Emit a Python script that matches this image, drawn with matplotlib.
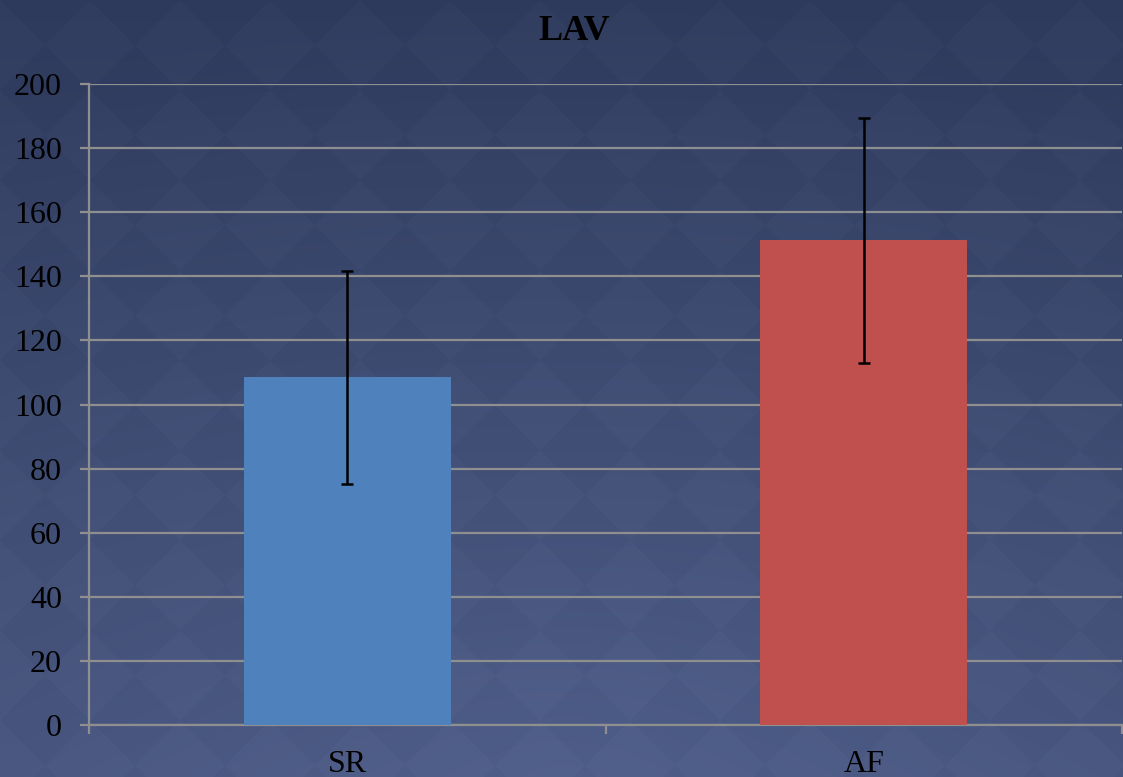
import numpy as np
import matplotlib.pyplot as plt

# data
categories = ['SR', 'AF']
means = [108.5, 151.2]
errors = [33.3, 38.1]
bar_colors = ['#4f81bd', '#c0504d']
yticks = [0, 20, 40, 60, 80, 100, 120, 140, 160, 180, 200]

W, H = 1123, 777
fig = plt.figure(figsize=(W / 100, H / 100), dpi=100)

# background: blue gradient with faint diamond texture
yy, xx = np.mgrid[0:H, 0:W]
t = yy / H
r = np.sqrt(((xx - W * 0.5) / W) ** 2 + ((yy - H) / H) ** 2)
glow = np.clip(1 - r / 1.0, 0, 1)
top = np.array([48, 60, 94]) / 255
bot = np.array([80, 95, 138]) / 255
img = top + (bot - top) * (0.55 * t + 0.45 * glow)[..., None]
p = 90
diamond = ((np.floor((xx + yy) / p) + np.floor((xx - yy) / p)) % 2)
img = img + (diamond[..., None] - 0.5) * 0.012
img = np.clip(img, 0, 1)
bg = fig.add_axes([0, 0, 1, 1], zorder=-1)
bg.imshow(img, aspect='auto', extent=[0, 1, 0, 1])
bg.axis('off')

ax = fig.add_axes([89 / W, 52 / H, 1033 / W, 641 / H])
ax.patch.set_alpha(0)

x = np.arange(len(categories))
ax.bar(x, means, width=0.4, color=bar_colors, zorder=3)
ax.errorbar(x, means, yerr=errors, fmt='none', ecolor='black',
            elinewidth=1.8, capsize=4.5, capthick=1.8, zorder=4)

ax.set_xlim(-0.5, 1.5)
ax.set_ylim(0, 200)
ax.set_yticks(yticks)
ax.yaxis.grid(True, color='#8f8f8f', linewidth=1.6, zorder=1)
ax.set_axisbelow(True)

grid_col = '#8f8f8f'
for s in ['top', 'right']:
    ax.spines[s].set_visible(False)
for s in ['left', 'bottom']:
    ax.spines[s].set_color(grid_col)
    ax.spines[s].set_linewidth(1.6)

ax.set_xticks(x)
ax.set_xticklabels(categories)
ax.set_xticks([-0.5, 0.5, 1.5], minor=True)
ax.tick_params(axis='x', which='major', length=0, pad=18,
               labelsize=23, labelcolor='black')
ax.tick_params(axis='x', which='minor', length=6.5, width=1.6, color=grid_col,
               direction='out')
ax.tick_params(axis='y', length=6.5, width=1.6, color=grid_col, pad=13,
               labelsize=23, labelcolor='black')
for lab in ax.get_xticklabels() + ax.get_yticklabels():
    lab.set_fontfamily('Liberation Serif')

fig.text(574 / W, 1 - 40 / H, 'LAV', ha='center', va='baseline',
         fontsize=26, fontweight='bold', family='Liberation Serif', color='black')

fig.savefig('out.png', dpi=100)
